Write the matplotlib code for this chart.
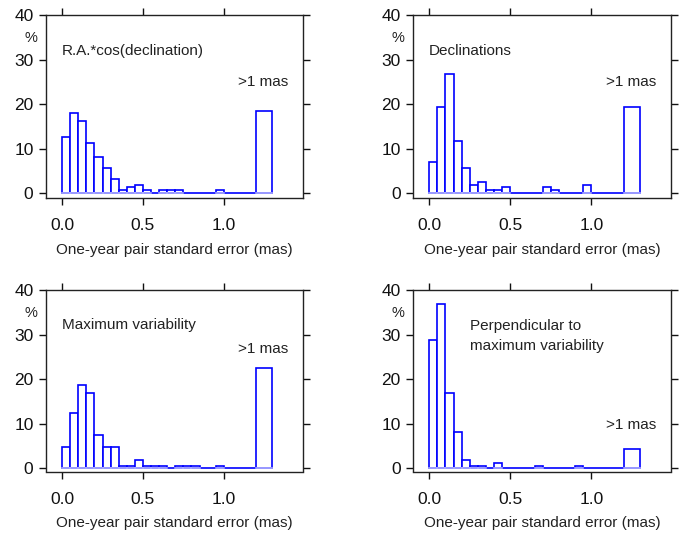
import numpy as np
import matplotlib
matplotlib.use("Agg")
import matplotlib.pyplot as plt
import matplotlib.transforms as mtransforms

plt.rcParams['font.family'] = ['Liberation Sans', 'DejaVu Sans']

# bin edges: 0.05 wide from 0 to 1.2, then one ">1 mas" bin 1.2-1.3
bin_left = [round(0.05 * i, 2) for i in range(24)] + [1.2]
bin_width = [0.05] * 24 + [0.1]

# percentages
ra_pct = [12.5, 18.1, 16.2, 11.2, 8.1, 5.6, 3.1, 0.6, 1.3, 1.9,
          0.6, 0, 0.6, 0.6, 0.6, 0, 0, 0, 0, 0.6,
          0, 0, 0, 0, 18.5]
dec_pct = [6.9, 19.3, 26.8, 11.8, 5.6, 1.9, 2.5, 0.6, 0.6, 1.3,
           0, 0, 0, 0, 1.3, 0.6, 0, 0, 0, 1.9,
           0, 0, 0, 0, 19.3]
maxvar_pct = [4.9, 12.5, 18.7, 16.9, 7.5, 4.9, 4.9, 0.6, 0.6, 1.9,
              0.6, 0.6, 0.6, 0, 0.6, 0.6, 0.6, 0, 0, 0.6,
              0, 0, 0, 0, 22.4]
perp_pct = [28.7, 36.8, 16.8, 8.1, 1.9, 0.6, 0.6, 0, 1.2, 0,
            0, 0, 0, 0.6, 0, 0, 0, 0, 0.6, 0,
            0, 0, 0, 0, 4.3]

panels = [
    (ra_pct, "R.A.*cos(declination)", 0.0, 32.0, 25.0),
    (dec_pct, "Declinations", 0.0, 32.0, 25.0),
    (maxvar_pct, "Maximum variability", 0.0, 32.2, 26.7),
    (perp_pct, "Perpendicular to\nmaximum variability", 0.25, 29.7, 9.8),
]

W, H = 681, 533
# (left, top, width, height, ymin) in pixels
rects = [(46, 15, 257, 183, -1.1), (413, 15, 258, 183, -1.1),
         (46, 290, 257, 181.5, -0.7), (413, 290, 258, 181.5, -0.7)]

fig = plt.figure(figsize=(6.81, 5.33), dpi=100)

for (vals, label, lx, ly, gy), (px, py, aw, ah, ymin) in zip(panels, rects):
    ax = fig.add_axes([px / W, 1 - (py + ah) / H, aw / W, ah / H])
    ax.bar(bin_left, vals, width=bin_width, align='edge',
           facecolor='white', edgecolor='#0000ff', linewidth=1.2)
    # lighter baseline under non-empty bars
    for xl, w, v in zip(bin_left, bin_width, vals):
        if v > 0:
            ax.plot([xl, xl + w], [0, 0], color='#b0b0ff', lw=1.2)
    ax.set_xlim(-0.1, 1.49)
    ax.set_ylim(ymin, 40)
    ax.set_xticks([0.0, 0.5, 1.0])
    ax.set_xticklabels(["0.0", "0.5", "1.0"])
    ax.set_yticks([0, 10, 20, 30, 40])
    ax.tick_params(direction='out', length=5, width=1, labelsize=12.5,
                   top=True, right=True, colors='#111111')
    ax.tick_params(axis='x', pad=9.5)
    ax.tick_params(axis='y', pad=4)
    for s in ax.spines.values():
        s.set_linewidth(1)
        s.set_color('#222222')
    ax.set_xlabel("One-year pair standard error (mas)", fontsize=11,
                  color='#222222', labelpad=7)
    ax.text(lx, ly, label, fontsize=11, va='center', ha='left',
            color='#222222', linespacing=1.5)
    ax.text(1.4, gy, ">1 mas", fontsize=11, va='center', ha='right',
            color='#222222')
    trans = mtransforms.blended_transform_factory(ax.transAxes, ax.transData)
    ax.text(-0.06, 34.9, "%", fontsize=10.5, va='center', ha='center',
            color='#222222', transform=trans)

fig.savefig("out.png", dpi=100)
